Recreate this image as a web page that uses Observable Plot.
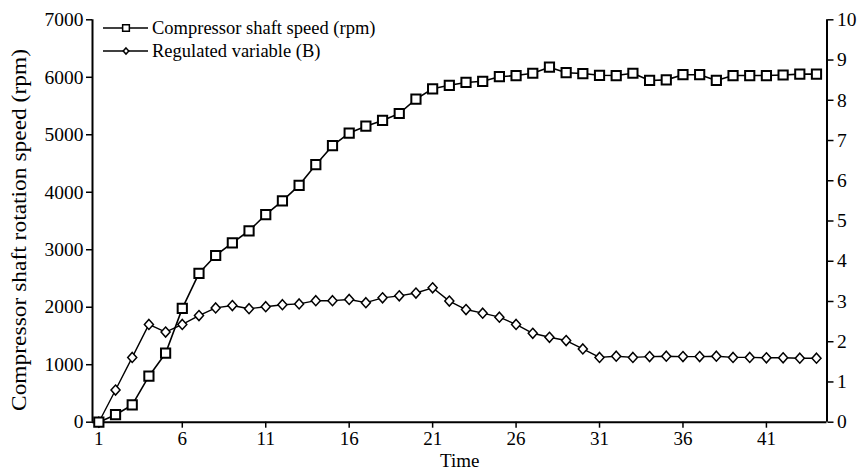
<!DOCTYPE html>
<html><head><meta charset="utf-8">
<script src="https://cdn.jsdelivr.net/npm/d3@7"></script>
<script src="https://cdn.jsdelivr.net/npm/@observablehq/plot@0.6"></script>
<style>body{margin:0;background:#fff} #chart{width:857px;height:470px}</style>
</head><body><div id="chart"></div>
<script>
const time = [1,2,3,4,5,6,7,8,9,10,11,12,13,14,15,16,17,18,19,20,21,22,23,24,25,26,27,28,29,30,31,32,33,34,35,36,37,38,39,40,41,42,43,44];
const rpm = [0,130,300,800,1200,1980,2590,2900,3120,3330,3610,3850,4120,4480,4810,5030,5150,5250,5370,5620,5800,5860,5910,5930,6010,6030,6070,6175,6080,6065,6035,6030,6070,5945,5955,6045,6045,5945,6030,6030,6030,6040,6055,6055];
const regB = [0,0.8,1.61,2.43,2.24,2.43,2.65,2.84,2.9,2.82,2.87,2.92,2.94,3.02,3.02,3.05,2.97,3.09,3.14,3.21,3.34,3.01,2.8,2.71,2.61,2.43,2.21,2.11,2.03,1.82,1.61,1.64,1.61,1.63,1.64,1.63,1.63,1.64,1.61,1.61,1.6,1.6,1.59,1.59];
const xTicks = [1,6,11,16,21,26,31,36,41];
const yLeftTicks = [0,1000,2000,3000,4000,5000,6000,7000];
const yRightTicks = [0,1,2,3,4,5,6,7,8,9,10];
const seriesNames = ["Compressor shaft speed (rpm)", "Regulated variable (B)"];
const xTitle = "Time";
const yTitle = "Compressor shaft rotation speed (rpm)";

const RATIO = 700; // right axis 0-10 maps to left 0-7000
const data = time.map((t, i) => ({t, rpm: rpm[i], b: regB[i]}));
const xDomain = [0.62, 44.63];
const FONT = "Liberation Serif, Times New Roman, serif";

const diamond = {
  draw(ctx, size) {
    const s = Math.sqrt(size);
    const hw = s * 0.51, hh = s * 0.565;
    ctx.moveTo(0, -hh); ctx.lineTo(hw, 0); ctx.lineTo(0, hh); ctx.lineTo(-hw, 0); ctx.closePath();
  }
};

const plot = Plot.plot({
  width: 857, height: 470,
  marginLeft: 92, marginRight: 30.5, marginTop: 19.3, marginBottom: 48.3,
  style: {fontFamily: FONT, fontSize: "19px", color: "#000", background: "#fff", overflow: "visible"},
  x: {domain: xDomain},
  y: {domain: [0, 7000]},
  marks: [
    Plot.axisX({ticks: xTicks, tickSize: 6, tickPadding: 3, label: null, strokeWidth: 1.5, fontSize: 19}),
    Plot.axisY({anchor: "left", ticks: yLeftTicks, tickFormat: d => String(d), tickSize: 6, tickPadding: 3, label: null, strokeWidth: 1.5, fontSize: 19.5}),
    Plot.axisY({anchor: "right", ticks: yRightTicks.map(v => v * RATIO), tickFormat: d => String(d / RATIO), tickSize: 6, tickPadding: 4, label: null, strokeWidth: 1.5, fontSize: 19.5}),
    Plot.ruleY([0], {stroke: "#000", strokeWidth: 2}),
    Plot.ruleX([xDomain[0], xDomain[1]], {stroke: "#000", strokeWidth: 2}),
    Plot.line(data, {x: "t", y: d => d.b * RATIO, stroke: "#000", strokeWidth: 1.4}),
    Plot.line(data, {x: "t", y: "rpm", stroke: "#000", strokeWidth: 1.6}),
    Plot.dot(data, {x: "t", y: d => d.b * RATIO, symbol: diamond, r: 5, fill: "#fff", stroke: "#000", strokeWidth: 1.5}),
    Plot.dot(data, {x: "t", y: "rpm", symbol: "square", r: 5.2, fill: "#fff", stroke: "#000", strokeWidth: 2}),
    Plot.text([xTitle], {frameAnchor: "bottom", lineAnchor: "middle", dy: 38.5, fontSize: 19, fill: "#000"}),
    Plot.text([yTitle], {frameAnchor: "left", textAnchor: "middle", lineAnchor: "middle", dx: -73, dy: 9, rotate: -90, fontSize: 21, fill: "#000", className: "ytitle"})
  ]
});
document.getElementById("chart").appendChild(plot);

// stretch the rotated axis title to the reference's length
d3.select(plot).selectAll(".ytitle text").attr("textLength", 362).attr("lengthAdjust", "spacingAndGlyphs");

// legend
const svg = d3.select(plot);
const lg = svg.append("g").attr("font-family", FONT).attr("font-size", 18.5).attr("text-anchor", "start");
const rows = [{y: 28, sym: d3.symbolSquare, size: 45}, {y: 51, sym: diamond, size: 30}];
rows.forEach((r, i) => {
  lg.append("line").attr("x1", 103).attr("x2", 148).attr("y1", r.y).attr("y2", r.y).attr("stroke", "#000").attr("stroke-width", 1.5);
  lg.append("path").attr("transform", `translate(126,${r.y})`).attr("d", d3.symbol(r.sym, r.size)()).attr("fill", "#fff").attr("stroke", "#000").attr("stroke-width", 1.5);
  lg.append("text").attr("x", 152).attr("y", r.y).attr("dy", "0.35em").attr("fill", "#000").text(seriesNames[i]);
});
</script></body></html>
